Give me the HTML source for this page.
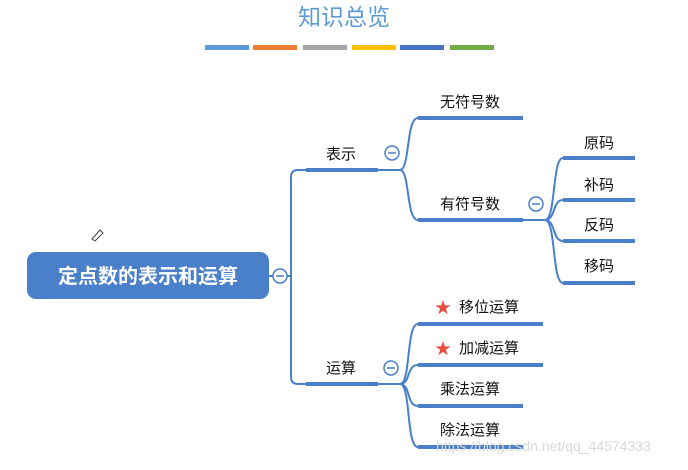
<!DOCTYPE html>
<html><head><meta charset="utf-8"><style>
body{margin:0;width:688px;height:465px;background:#fff;overflow:hidden;font-family:"Liberation Sans","Noto Sans CJK SC",sans-serif}
svg text{font-family:"Liberation Sans","Noto Sans CJK SC",sans-serif}
</style></head><body>
<svg width="688" height="465" viewBox="0 0 688 465" xmlns="http://www.w3.org/2000/svg">
<text x="344" y="25" text-anchor="middle" font-size="23" fill="#5b9bd5">知识总览</text>
<rect x="205" y="45" width="44" height="5" fill="#5b9bd5"/>
<rect x="253" y="45" width="44" height="5" fill="#ed7d31"/>
<rect x="303" y="45" width="44" height="5" fill="#a5a5a5"/>
<rect x="352" y="45" width="44" height="5" fill="#ffc000"/>
<rect x="400" y="45" width="44" height="5" fill="#4472c4"/>
<rect x="450" y="45" width="44" height="5" fill="#70ad47"/>
<g fill="none" stroke="#4a7fc9" stroke-width="2">
<path d="M269 276 H291 M298 170 Q291 170 291 177 V377 Q291 384 298 384 H306"/>
<path d="M298 170 H306"/>
<path d="M378 170 H400 M400 170 C410 170 406 118 418 118 M400 170 C410 170 406 220 418 220"/>
<path d="M523 220 H545 M545 220 C556 220 552 158 563 158 M545 220 C556 220 552 200 563 200 M545 220 C556 220 552 241 563 241 M545 220 C556 220 552 283 563 283"/>
<path d="M378 384 H400 M400 384 C411 384 406 324 418 324 M400 384 C411 384 406 365 418 365 M400 384 C411 384 406 406 418 406 M400 384 C411 384 406 447 418 447"/>
</g>
<g fill="#4a7fc9">
<rect x="306" y="168" width="72" height="4"/>
<rect x="306" y="382" width="72" height="4"/>
<rect x="418" y="116" width="105" height="4"/>
<rect x="418" y="218" width="105" height="4"/>
<rect x="563" y="156" width="72" height="4"/>
<rect x="563" y="198" width="72" height="4"/>
<rect x="563" y="239" width="72" height="4"/>
<rect x="563" y="281" width="72" height="4"/>
<rect x="418" y="322" width="125" height="4"/>
<rect x="418" y="363" width="125" height="4"/>
<rect x="418" y="404" width="105" height="4"/>
<rect x="418" y="445" width="105" height="4"/>
</g>
<rect x="27" y="252" width="242" height="47" rx="9" fill="#4a7fc9"/>
<text x="148" y="283" text-anchor="middle" font-size="20" font-weight="bold" fill="#fff">定点数的表示和运算</text>
<g fill="#fff" stroke="#4a7fc9" stroke-width="1.5">
<circle cx="280" cy="276" r="7"/><circle cx="392" cy="153" r="7"/><circle cx="536" cy="204" r="7"/><circle cx="391" cy="368" r="7"/>
</g>
<g stroke="#4a7fc9" stroke-width="1.5">
<path d="M276 276h8M388 153h8M532 204h8M387 368h8"/>
</g>
<g font-size="15" fill="#111" text-anchor="middle">
<text x="341" y="159">表示</text>
<text x="341" y="373">运算</text>
<text x="470" y="107">无符号数</text>
<text x="470" y="209">有符号数</text>
<text x="599" y="148">原码</text>
<text x="599" y="190">补码</text>
<text x="599" y="230">反码</text>
<text x="599" y="271">移码</text>
<text x="489" y="312">移位运算</text>
<text x="489" y="353">加减运算</text>
<text x="470" y="394">乘法运算</text>
<text x="470" y="435">除法运算</text>
</g>
<g fill="#e84c3d" font-size="16" text-anchor="middle">
<text x="443" y="313">★</text><text x="443" y="354">★</text>
</g>
<text x="436" y="451" font-size="14" fill="#d8d8d8">https://blog.csdn.net/qq_44574333</text>
<path d="M92 239 L100 230 L103 233 L95 241 Z" fill="none" stroke="#444" stroke-width="1"/>
</svg>
</body></html>
